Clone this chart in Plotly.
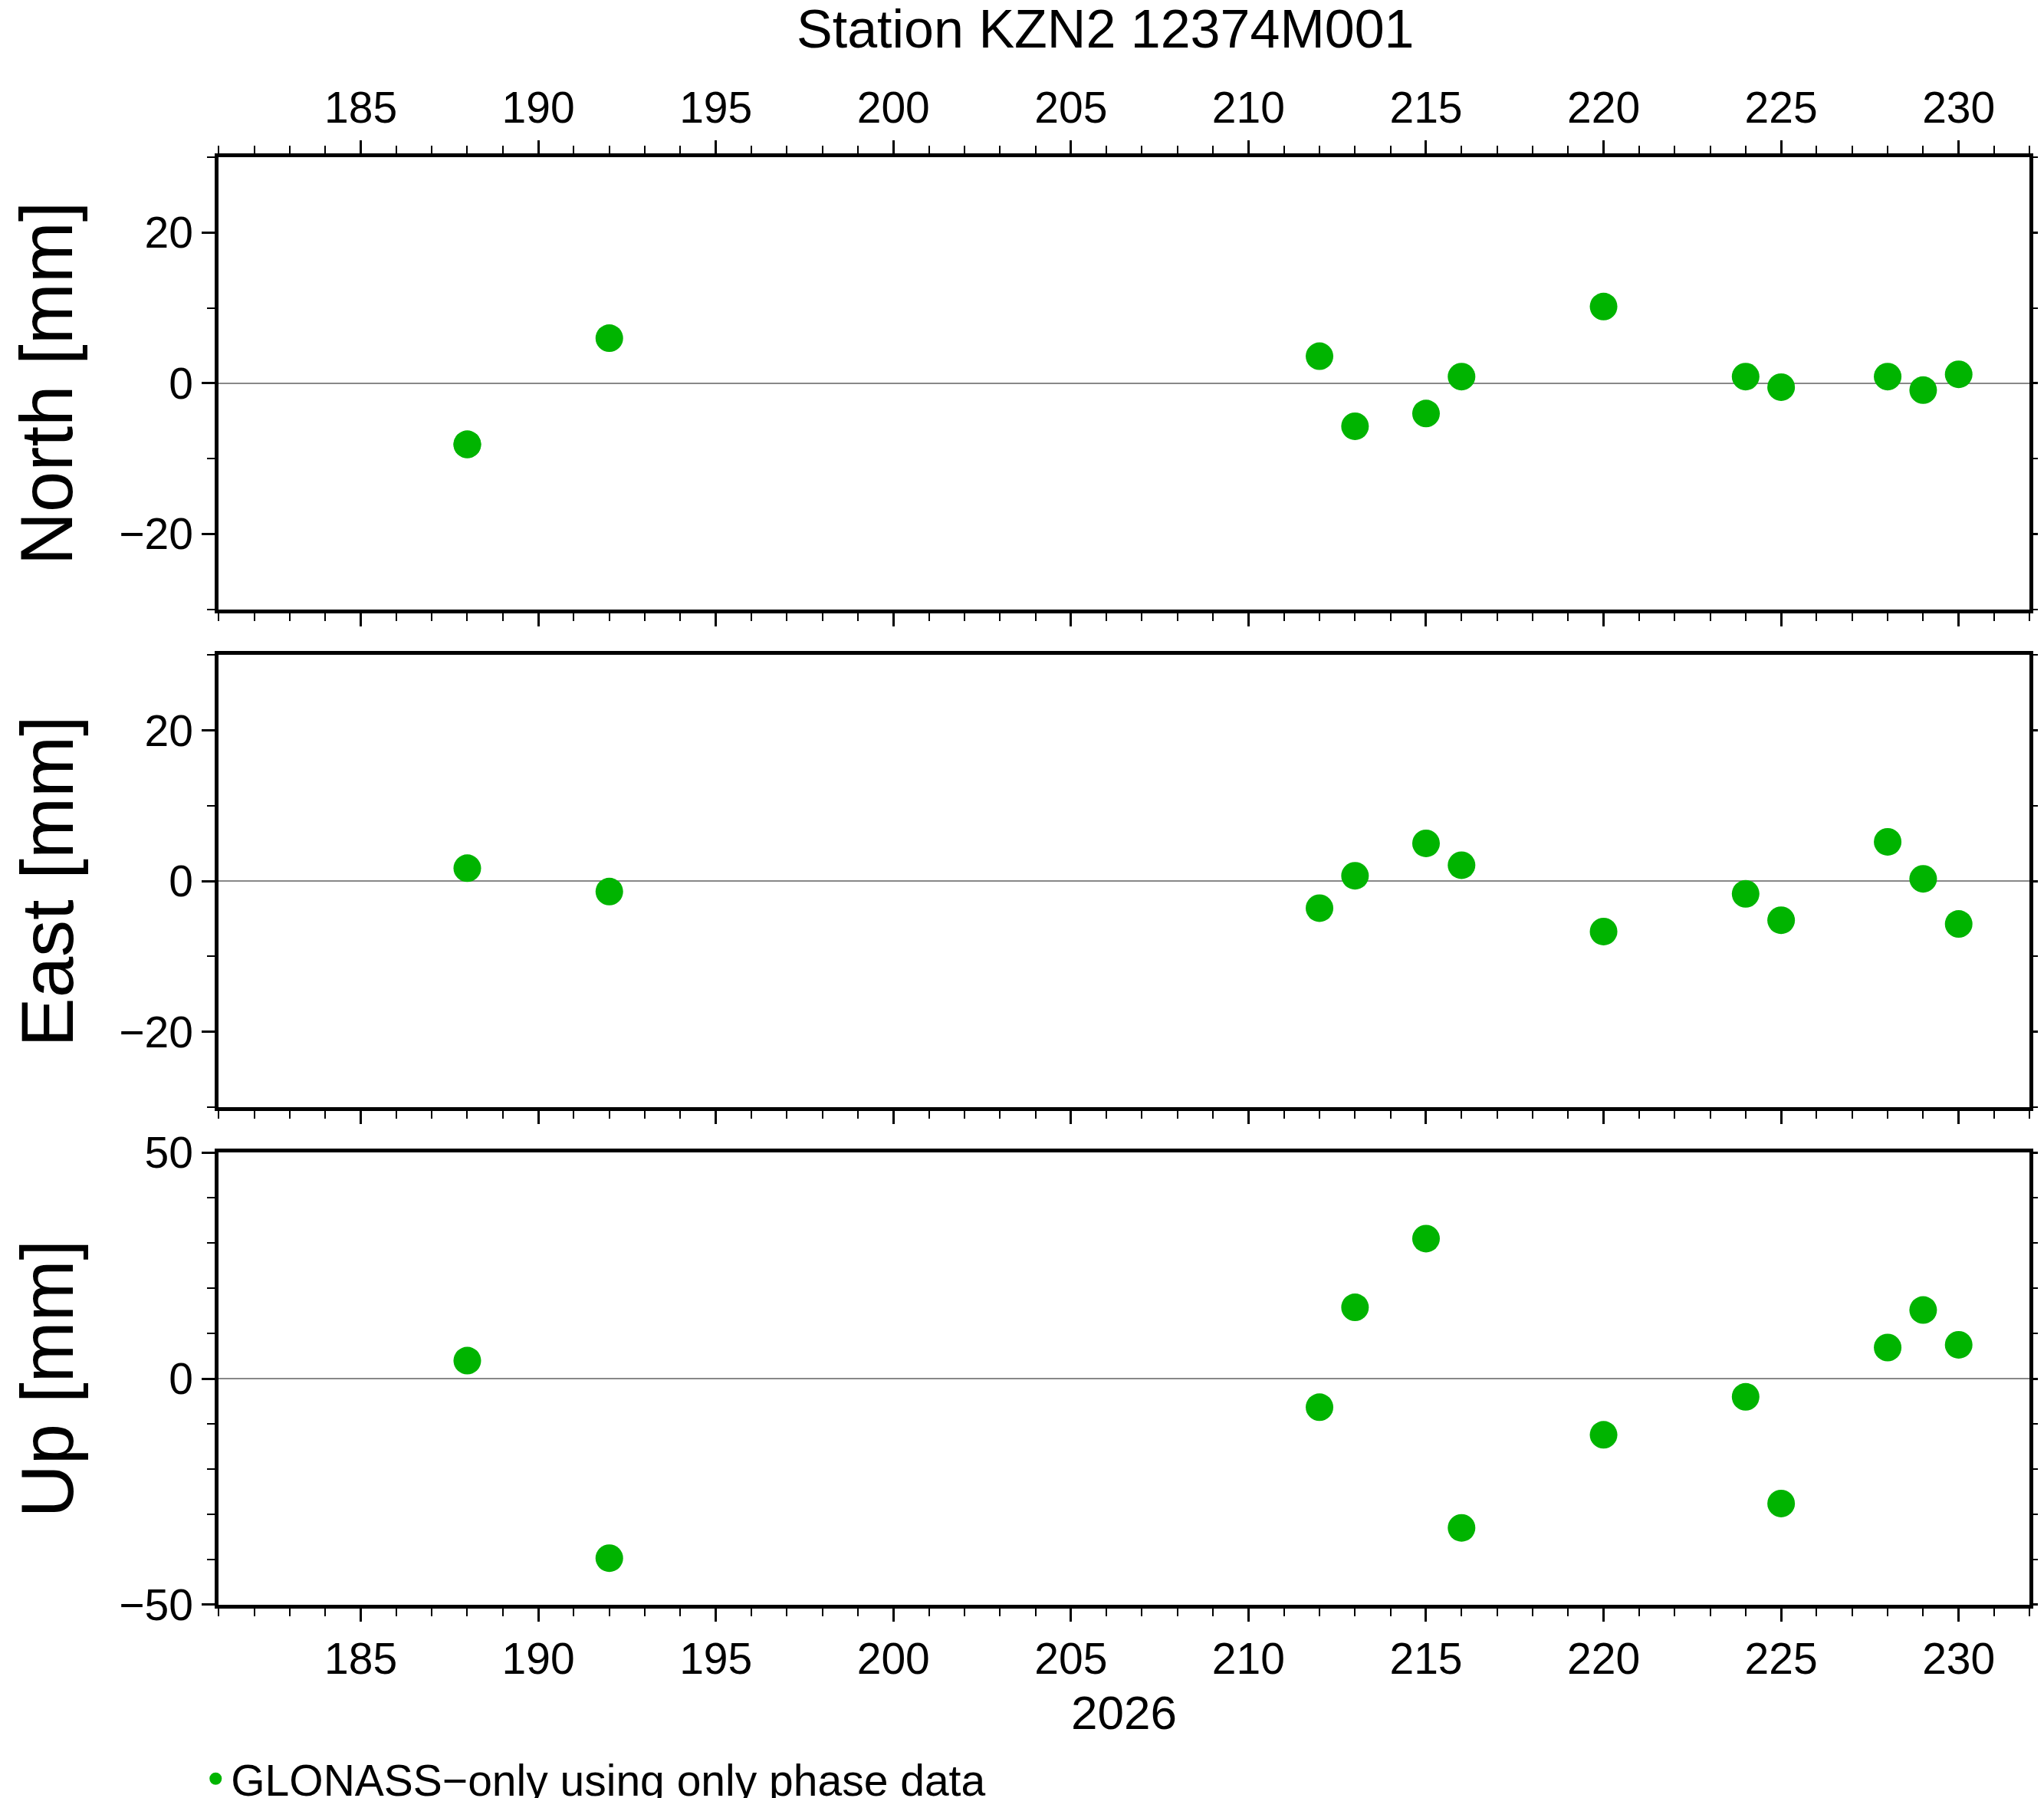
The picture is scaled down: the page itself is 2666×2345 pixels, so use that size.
import plotly.graph_objects as go

# day of year 2026
days = [188, 192, 212, 213, 215, 216, 220, 224, 225, 228, 229, 230]
north = [-8.1, 6.0, 3.6, -5.7, -4.0, 0.9, 10.2, 0.9, -0.5, 0.9, -0.9, 1.2]
east = [1.7, -1.4, -3.6, 0.7, 5.0, 2.1, -6.7, -1.7, -5.2, 5.2, 0.3, -5.7]
up = [4.0, -39.7, -6.3, 15.8, 31.0, -33.0, -12.4, -4.0, -27.6, 6.9, 15.2, 7.5]

green = "#00b400"
font = "Liberation Sans, Arial, sans-serif"
W, H = 2666, 2345

fig = go.Figure()
series = [(north, "x", "y", True), (east, "x2", "y2", False), (up, "x3", "y3", False)]
for vals, xa, ya, show in series:
    fig.add_trace(go.Scatter(
        x=days, y=vals, xaxis=xa, yaxis=ya, mode="markers",
        marker=dict(color=green, size=36),
        name="GLONASS\u2212only using only phase data", showlegend=show,
    ))

xdom = [0.104, 0.990]
ydoms = [[0.6645, 0.9159], [0.3877, 0.6391], [0.1109, 0.3623]]

common_x = dict(
    range=[181, 232], domain=xdom, showgrid=False, zeroline=False, automargin=False,
    showline=True, linecolor="black", linewidth=5, mirror=True,
    ticks="outside", ticklen=17, tickwidth=3, tickcolor="black",
    tick0=185, dtick=5, minor=dict(dtick=1, ticklen=10, tickwidth=2, ticks="outside", tickcolor="black"),
    tickfont=dict(size=57, color="black", family=font),
)
common_y = dict(
    showgrid=False, zeroline=True, zerolinecolor="#888888", zerolinewidth=2, automargin=False,
    showline=True, linecolor="black", linewidth=5, mirror="ticks",
    ticks="outside", ticklen=17, tickwidth=3, tickcolor="black",
    tickfont=dict(size=57, color="black", family=font),
)
ymin = dict(dtick=10, tick0=0, ticklen=10, tickwidth=2, ticks="outside", tickcolor="black")

layout = dict(
    width=W, height=H, margin=dict(l=0, r=0, t=0, b=0, autoexpand=False),
    plot_bgcolor="white", paper_bgcolor="white",
    font=dict(family=font, color="black"),
    xaxis=dict(common_x, anchor="y", showticklabels=False),
    xaxis2=dict(common_x, anchor="y2", showticklabels=False),
    xaxis3=dict(common_x, anchor="y3", showticklabels=True),
    xaxis4=dict(common_x, anchor="y", overlaying="x", side="top", showticklabels=True, matches="x"),
    yaxis=dict(common_y, domain=ydoms[0], anchor="x", range=[-30, 30], tickvals=[-20, 0, 20],
               ticktext=["\u221220", "0", "20"], minor=ymin),
    yaxis2=dict(common_y, domain=ydoms[1], anchor="x2", range=[-30, 30], tickvals=[-20, 0, 20],
                ticktext=["\u221220", "0", "20"], minor=ymin),
    yaxis3=dict(common_y, domain=ydoms[2], anchor="x3", range=[-50, 50], tickvals=[-50, 0, 50],
                ticktext=["\u221250", "0", "50"], minor=ymin),
    legend=dict(x=0.095, y=0.014, xanchor="left", yanchor="middle", itemsizing="trace",
                font=dict(size=57, family=font), bgcolor="rgba(0,0,0,0)"),
)
fig.update_layout(**layout)
# dummy trace so the top axis renders
fig.add_trace(go.Scatter(x=[days[0]], y=[north[0]], xaxis="x4", yaxis="y", mode="markers",
                         marker=dict(color=green, size=36), showlegend=False, hoverinfo="skip"))

ann = [
    dict(text="Station KZN2 12374M001", x=0.538, y=0.987, size=70, angle=0),
    dict(text="North [mm]", x=0.020, y=sum(ydoms[0]) / 2, size=96, angle=-90),
    dict(text="East [mm]", x=0.020, y=sum(ydoms[1]) / 2, size=96, angle=-90),
    dict(text="Up [mm]", x=0.020, y=sum(ydoms[2]) / 2, size=96, angle=-90),
    dict(text="2026", x=0.547, y=0.051, size=62, angle=0),
]
for a in ann:
    fig.add_annotation(text=a["text"], x=a["x"], y=a["y"], xref="paper", yref="paper",
                       showarrow=False, textangle=a["angle"], xanchor="center", yanchor="middle",
                       font=dict(size=a["size"], family=font, color="black"))

fig.write_html("out.html")
